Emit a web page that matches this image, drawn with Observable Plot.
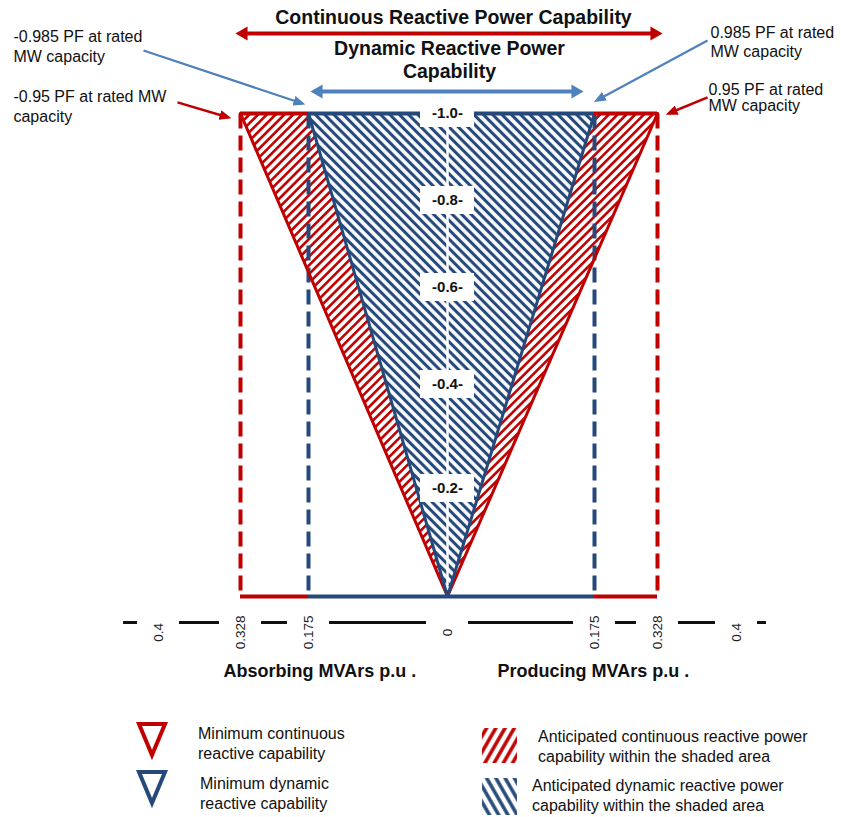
<!DOCTYPE html>
<html>
<head>
<meta charset="utf-8">
<script src="https://cdn.jsdelivr.net/npm/d3@7"></script>
<script src="https://cdn.jsdelivr.net/npm/@observablehq/plot@0.6"></script>
<style>
  body { margin: 0; background: #fff; font-family: "Liberation Sans", Arial, sans-serif; }
  #wrap { width: 841px; }
  #legend { position: relative; width: 841px; height: 117px; }
  #legend .t { position: absolute; font-size: 16px; line-height: 20px; color: #111; white-space: nowrap; }
  #legend svg { position: absolute; overflow: visible; }
</style>
</head>
<body>
<div id="wrap">
  <div id="chart"></div>
  <div id="legend">
    <svg width="0" height="0" style="left:0;top:0">
      <defs>
        <pattern id="lg-red" patternUnits="userSpaceOnUse" width="8" height="8" patternTransform="rotate(30)">
          <rect width="8" height="8" fill="white"/>
          <line x1="4" y1="0" x2="4" y2="8" stroke="#C00000" stroke-width="3.5"/>
        </pattern>
        <pattern id="lg-navy" patternUnits="userSpaceOnUse" width="8" height="8" patternTransform="rotate(-30)">
          <rect width="8" height="8" fill="white"/>
          <line x1="4" y1="0" x2="4" y2="8" stroke="#24497A" stroke-width="3.5"/>
        </pattern>
      </defs>
    </svg>
    <svg style="left:134px;top:20px" width="36" height="44"><polygon points="5,4 31,4 18,35" fill="none" stroke="#C00000" stroke-width="4"/></svg>
    <div class="t" style="left:198px;top:24px">Minimum continuous<br>reactive capability</div>
    <svg style="left:134px;top:68px" width="36" height="44"><polygon points="5,4 31,4 18,35" fill="none" stroke="#24497A" stroke-width="4"/></svg>
    <div class="t" style="left:200px;top:74px">Minimum dynamic<br>reactive capability</div>
    <svg style="left:482px;top:28px" width="35" height="35"><rect width="35" height="35" fill="url(#lg-red)"/></svg>
    <div class="t" style="left:538px;top:27px">Anticipated continuous reactive power<br>capability within the shaded area</div>
    <svg style="left:482px;top:78px" width="35" height="37"><rect width="35" height="37" fill="url(#lg-navy)"/></svg>
    <div class="t" style="left:532px;top:76px">Anticipated dynamic reactive power<br>capability within the shaded area</div>
  </div>
</div>
<script>
const RED = "#C00000", NAVY = "#24497A", SKY = "#4F81BD";

// ---- data ----
const capability = ["continuous", "dynamic"];
const pfAtRated = [0.95, 0.985];          // power factor at rated MW
const qAtRated = [0.328, 0.175];          // MVAr p.u. at rated MW
const ratedMW = 1.0;
const mwLevels = [0.2, 0.4, 0.6, 0.8, 1.0];
const mwLabels = ["-0.2-", "-0.4-", "-0.6-", "-0.8-", "-1.0-"];
const xTicks = [-0.4, -0.328, -0.175, 0, 0.175, 0.328, 0.4];
const xTickLabels = ["0.4", "0.328", "0.175", "0", "0.175", "0.328", "0.4"];
const sideTitles = ["Absorbing MVArs p.u .", "Producing MVArs p.u ."];
const spanTitles = ["Continuous Reactive Power Capability", "Dynamic Reactive Power\nCapability"];

// ---- layout: the diagram is not drawn to scale, so the scales get a piecewise transform ----
const xKnots = [-0.5, ...xTicks, 0.5];
const xKnotPos = [0, 158, 240, 308, 447, 594, 657, 736, 841];
const yKnots = [-0.5, 0, ...mwLevels, 1.5];
const yKnotPos = [700, 596, 488, 384, 287, 200, 113, 0];
const xLayout = d3.scaleLinear().domain(xKnots).range(xKnotPos);
const yLayout = d3.scaleLinear().domain(yKnots).range(yKnotPos);

const [qC, qD] = qAtRated;
const colorOf = {continuous: RED, dynamic: NAVY};

const wedge = (a, b) => [{y: 0, x1: 0, x2: 0}, {y: ratedMW, x1: a, x2: b}];
const edges = capability.map((c, i) => ({c, pts: [[-qAtRated[i], ratedMW], [0, 0], [qAtRated[i], ratedMW]]}));
const hSegs = [0, ratedMW].flatMap(y => [
  {y, x1: -qC, x2: -qD, stroke: RED},
  {y, x1: -qD, x2: qD, stroke: NAVY},
  {y, x1: qD, x2: qC, stroke: RED}
]);
const limits = capability.flatMap((c, i) => [-qAtRated[i], qAtRated[i]].map(q => ({q, stroke: colorOf[c]})));

// axis line broken around the tick labels
const axisExtent = [-0.4354, 0.4486];
const axisSegs = d3.pairs([axisExtent[0], ...xTicks, axisExtent[1]]);

// annotations
const pfNotes = [
  {text: `-${pfAtRated[1]} PF at rated\nMW capacity`, x: -0.4918, y: 1.226, lh: 1.25},
  {text: `-${pfAtRated[0]} PF at rated MW\ncapacity`, x: -0.4918, y: 0.9816, lh: 1.19},
  {text: `${pfAtRated[1]} PF at rated\nMW capacity`, x: 0.3763, y: 1.248, lh: 1.19},
  {text: `${pfAtRated[0]} PF at rated\nMW capacity`, x: 0.3745, y: 1.009, lh: 1.06}
];
const pointers = [
  {x1: -0.4095, y1: 1.279, x2: -0.1885, y2: 1.044, stroke: SKY},
  {x1: -0.3833, y1: 1.049, x2: -0.3385, y2: 0.9908, stroke: RED},
  {x1: 0.3736, y1: 1.323, x2: 0.1799, y2: 1.0575, stroke: SKY},
  {x1: 0.3736, y1: 1.071, x2: 0.338, y2: 1.0, stroke: RED}
];
const spanY = {continuous: 1.354, dynamic: 1.097};

const FONT = '"Liberation Sans", Arial, sans-serif';

const marks = [
  // hatched capability areas
  Plot.areaX(wedge(-qC, -qD), {y: "y", x1: "x1", x2: "x2", fill: "url(#hatch-red)"}),
  Plot.areaX(wedge(qD, qC), {y: "y", x1: "x1", x2: "x2", fill: "url(#hatch-red)"}),
  Plot.areaX(wedge(-qD, qD), {y: "y", x1: "x1", x2: "x2", fill: "url(#hatch-navy)"}),
  Plot.ruleX([0], {x: d => d, y1: 0.02, y2: ratedMW, stroke: "white", strokeWidth: 2.5}),
  // dashed limit lines
  Plot.ruleX(limits, {x: "q", y1: 0.01, y2: ratedMW, stroke: "stroke", strokeWidth: 4, strokeDasharray: "15,7"}),
  // triangle outlines
  ...edges.map(e => Plot.line(e.pts, {stroke: colorOf[e.c], strokeWidth: 3})),
  Plot.ruleY(hSegs, {y: "y", x1: "x1", x2: "x2", stroke: "stroke", strokeWidth: 4}),
  // MW level labels
  Plot.rect(mwLevels, {x1: 0, x2: 0, y1: d => d, y2: d => d, insetLeft: -27, insetRight: -27, insetTop: -14, insetBottom: -14, fill: "white"}),
  Plot.text(mwLevels, {x: 0, y: d => d, text: (d, i) => mwLabels[i], fontSize: 15, fontWeight: "bold", fill: "#111"}),
  // x axis
  Plot.ruleY(axisSegs, {y: -0.125, x1: d => d[0], x2: d => d[1], insetLeft: 21, insetRight: 21, stroke: "#111", strokeWidth: 3}),
  Plot.text(xTicks, {x: d => d, y: -0.173, text: (d, i) => xTickLabels[i], rotate: -90, fontSize: 13.5, fill: "#222"}),
  Plot.text(sideTitles, {x: (d, i) => [-0.3429, 0.0595][i], y: -0.389, text: d => d, textAnchor: "start", lineAnchor: "bottom", fontSize: 18, fontWeight: "bold", fill: "#111"}),
  // span arrows + titles
  Plot.ruleY([qC], {y: spanY.continuous, x1: d => -d, x2: d => d, insetLeft: 4, insetRight: 4, stroke: RED, strokeWidth: 4}),
  Plot.dot([qC], {x: d => -d, y: spanY.continuous, symbol: "triangle", r: 5.2, rotate: -90, dx: 3, fill: RED}),
  Plot.dot([qC], {x: d => d, y: spanY.continuous, symbol: "triangle", r: 5.2, rotate: 90, dx: -3, fill: RED}),
  Plot.ruleY([qD], {y: spanY.dynamic, x1: d => -d, x2: d => d, insetLeft: 10, insetRight: 19, stroke: SKY, strokeWidth: 4}),
  Plot.dot([qD], {x: d => -d, y: spanY.dynamic, symbol: "triangle", r: 5.2, rotate: -90, dx: 10, fill: SKY}),
  Plot.dot([qD], {x: d => d, y: spanY.dynamic, symbol: "triangle", r: 5.2, rotate: 90, dx: -19, fill: SKY}),
  Plot.text([spanTitles[0]], {x: 0.0071, y: 1.398, text: d => d, lineAnchor: "bottom", fontSize: 19.5, fontWeight: "bold", fill: "#111"}),
  Plot.text([spanTitles[1]], {x: 0.0024, y: 1.155, text: d => d, lineAnchor: "bottom", lineHeight: 1.18, fontSize: 19.5, fontWeight: "bold", fill: "#111"}),
  // PF pointers
  Plot.link(pointers.filter(p => p.stroke === SKY), {x1: "x1", y1: "y1", x2: "x2", y2: "y2", stroke: SKY, strokeWidth: 2.2}),
  Plot.link(pointers.filter(p => p.stroke === RED), {x1: "x1", y1: "y1", x2: "x2", y2: "y2", stroke: RED, strokeWidth: 2.5}),
  ...pfNotes.map(n => Plot.text([n], {x: "x", y: "y", text: "text", textAnchor: "start", lineAnchor: "bottom", lineHeight: n.lh, fontSize: 16, fill: "#111"}))
];

const chart = Plot.plot({
  width: 841, height: 700,
  marginTop: 0, marginRight: 0, marginBottom: 0, marginLeft: 0,
  style: {fontFamily: FONT, background: "white", color: "#111"},
  x: {type: "linear", transform: xLayout, domain: [0, 841], range: [0, 841], axis: null},
  y: {type: "linear", transform: yLayout, domain: [0, 700], range: [0, 700], axis: null},
  color: {type: "identity"},
  marks
});
document.getElementById("chart").append(chart);

const svg = d3.select(chart);
const defs = svg.insert("defs", ":first-child");
function hatch(id, color, angle, size, sw) {
  const p = defs.append("pattern").attr("id", id).attr("patternUnits", "userSpaceOnUse")
    .attr("width", size).attr("height", size).attr("patternTransform", `rotate(${angle})`);
  p.append("rect").attr("width", size).attr("height", size).attr("fill", "white");
  p.append("line").attr("x1", size / 2).attr("x2", size / 2).attr("y1", 0).attr("y2", size)
    .attr("stroke", color).attr("stroke-width", sw);
}
hatch("hatch-red", RED, 45, 6.2, 2.6);
hatch("hatch-navy", NAVY, -45, 6.6, 3.1);
function head(id, color) {
  defs.append("marker").attr("id", id).attr("viewBox", "0 0 12 10").attr("refX", 9).attr("refY", 5)
    .attr("markerUnits", "userSpaceOnUse").attr("markerWidth", 12).attr("markerHeight", 10)
    .attr("orient", "auto").append("path").attr("d", "M0,0L12,5L0,10Z").attr("fill", color);
}
head("head-sky", SKY);
head("head-red", RED);
svg.selectAll('g[aria-label="link"]').each(function () {
  const s = (this.getAttribute("stroke") || "").toUpperCase();
  const id = s === RED ? "head-red" : "head-sky";
  d3.select(this).attr("marker-end", `url(#${id})`);
  d3.select(this).selectAll("path").attr("marker-end", `url(#${id})`);
});
</script>
</body>
</html>
